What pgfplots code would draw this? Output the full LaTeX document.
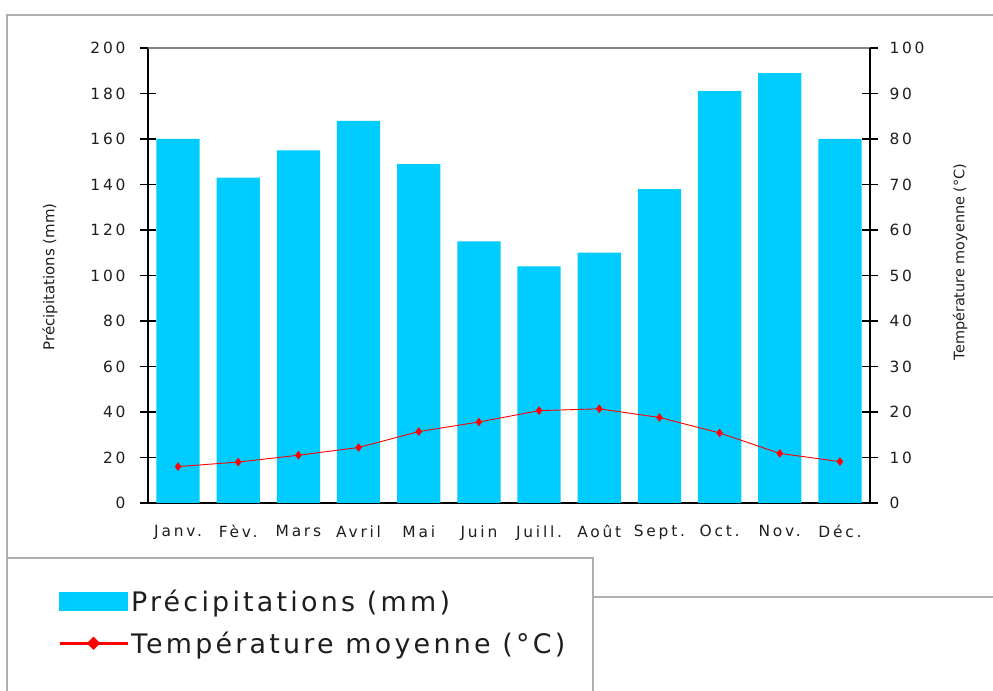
\documentclass[border=0pt]{standalone}
\usepackage{fontspec}
\setmainfont{DejaVu Sans}
\newfontfamily\spc[LetterSpace=18]{DejaVu Sans}
\newfontfamily\lgd[LetterSpace=12]{DejaVu Sans}
\usepackage{pgfplots}
\pgfplotsset{compat=1.18}

\definecolor{barblue}{RGB}{0,204,255}
\definecolor{framegray}{RGB}{175,175,175}
\definecolor{topgray}{RGB}{130,130,130}
\definecolor{txt}{RGB}{30,30,30}

\pgfplotsset{
  common/.style={
    scale only axis,
    width=722bp, height=455bp,
    at={(148bp,188bp)}, anchor=south west,
    xmin=-0.5, xmax=11.5,
    /pgf/number format/assume math mode=true,
    ticklabel style={font=\spc\fontsize{15.5}{18}\selectfont, text=txt},
    major tick length=16bp, minor tick length=12bp,
    tick align=center,
    every tick/.style={black, line width=1.3bp},
    axis line style={-, line width=1.8bp},
  },
}

\begin{document}
\begin{tikzpicture}
\useasboundingbox (0,0) rectangle (993bp,691bp);

% precipitations, left axis
\begin{axis}[common,
  axis x line*=bottom, axis y line*=left,
  ymin=0, ymax=200, ytick={0,20,...,200},
  xtick={0,...,11},
  xticklabels={Janv.,Fèv.,Mars,Avril,Mai,Juin,Juill.,Août,Sept.,Oct.,Nov.,Déc.},
  xtick style={draw=none},
  minor xtick={-0.5,0.5,...,11.5},
  xticklabel style={yshift=-11bp},
  yticklabel style={xshift=-11bp},
  ylabel={Précipitations (mm)},
  every axis y label/.style={at={(rel axis cs:0,0.497)}, xshift=-98bp, rotate=90,
    anchor=center, font=\fontsize{15}{17}\selectfont, text=txt},
]
\addplot[ybar, bar width=0.72, fill=barblue, draw=none] coordinates {
  (0,160) (1,143) (2,155) (3,168) (4,149) (5,115)
  (6,104) (7,110) (8,138) (9,181) (10,189) (11,160)
};
\end{axis}

% temperature, right axis
\begin{axis}[common,
  axis x line*=top, axis y line*=right,
  x axis line style={topgray, line width=2.2bp},
  xtick=\empty,
  ymin=0, ymax=100, ytick={0,10,...,100},
  yticklabel style={xshift=8bp},
  ylabel={Température moyenne (°C)},
  every axis y label/.style={at={(rel axis cs:1,0.53)}, xshift=90bp, rotate=90,
    anchor=center, font=\fontsize{14.5}{17}\selectfont, text=txt},
  legend style={draw=none, fill=none, at={(rel axis cs:-0.129,-0.262)}, anchor=west,
    font=\lgd\fontsize{27}{30}\selectfont, text=txt, row sep=15bp,
    nodes={inner sep=2bp}},
  legend cell align=left,
]
\addlegendimage{legend image code/.code={\fill[barblue] (0bp,-9bp) rectangle (68bp,9bp);}}
\addlegendentry{Précipitations (mm)}
\addplot[red, line width=0.9bp, mark=diamond*, mark size=3.6bp,
  legend image code/.code={
    \draw[red, line width=3bp] (0bp,0bp) -- (68bp,0bp);
    \fill[red] (34bp,0bp) +(-6bp,0) -- +(0,6bp) -- +(6bp,0) -- +(0,-6bp) -- cycle;}]
  coordinates {
  (0,8.0) (1,9.0) (2,10.5) (3,12.2) (4,15.7) (5,17.8)
  (6,20.3) (7,20.7) (8,18.8) (9,15.4) (10,10.9) (11,9.1)
};
\addlegendentry{Température moyenne (°C)}
\end{axis}

% frame decorations
\draw[framegray, line width=2bp] (7bp,0bp) -- (7bp,676bp) -- (993bp,676bp);
\draw[framegray, line width=2bp] (7bp,133bp) -- (593bp,133bp) -- (593bp,0bp);
\draw[framegray, line width=2bp] (593bp,94bp) -- (993bp,94bp);
\end{tikzpicture}
\end{document}
